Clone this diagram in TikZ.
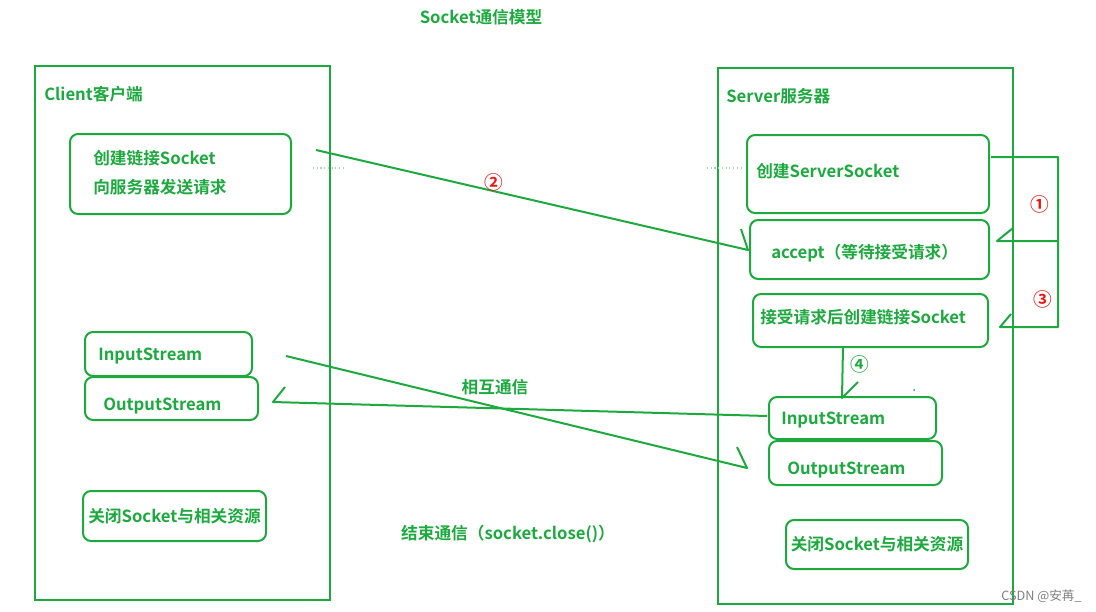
\documentclass[tikz,border=0pt]{standalone}
\usepackage{fontspec}
\usetikzlibrary{fit}
\setmainfont{Noto Sans CJK SC}[BoldFont={Noto Sans CJK SC Bold}]
\definecolor{sock-green}{RGB}{28, 170, 62}
\definecolor{mark-red}{RGB}{235, 20, 20}

\tikzset{
  frame/.style={draw=sock-green, line width=1.9pt, inner sep=0pt},
  box/.style={draw=sock-green, line width=1.5pt, rounded corners=6pt, inner sep=0pt},
  wire/.style={draw=sock-green, line width=1.5pt, line join=round},
  txt/.style={text=sock-green, font=\bfseries\fontsize{12.5}{15}\selectfont, inner sep=0pt, anchor=west},
  num/.style={text=mark-red, font=\bfseries\fontsize{14}{16}\selectfont, inner sep=0pt},
  faint/.style={draw=sock-green!40, line width=0.8pt, dotted}
}

\begin{document}
\begin{tikzpicture}[x=0.75pt, y=-0.75pt]
\useasboundingbox (0,0) rectangle (1096,611);

\node[txt, anchor=center] (title) at (481,17) {Socket通信模型};

% client side
\node[frame, fit={(35,66) (330,600)}] (client) {};
\node[txt] (clientLbl) at (44,94) {Client客户端};
\node[box, fit={(70,134) (291,214)}] (cliConn) {};
\node[txt] (cliConnA) at (93,158) {创建链接Socket};
\node[txt] (cliConnB) at (93,187) {向服务器发送请求};
\node[box, fit={(85,332) (252,376)}] (cliIn) {};
\node[txt] (cliInLbl) at (98,356) {InputStream};
\node[box, fit={(85,377) (258,420)}] (cliOut) {};
\node[txt] (cliOutLbl) at (103,406) {OutputStream};
\node[box, fit={(83,491) (266,541)}] (cliClose) {};
\node[txt, anchor=center] (cliCloseLbl) at (cliClose.center) {关闭Socket与相关资源};

% server side
\node[frame, fit={(718,68) (1013,604)}] (server) {};
\node[txt] (serverLbl) at (726,96) {Server服务器};
\node[box, fit={(747,135) (989,213)}] (srvSock) {};
\node[txt] (srvSockLbl) at (756,171) {创建ServerSocket};
\node[box, fit={(750,220) (989,279)}] (srvAcc) {};
\node[txt] (srvAccLbl) at (771,253) {accept（等待接受请求）};
\node[box, fit={(753,294) (988,347)}] (srvLink) {};
\node[txt] (srvLinkLbl) at (760,317) {接受请求后创建链接Socket};
\node[box, fit={(769,397) (936,439)}] (srvIn) {};
\node[txt] (srvInLbl) at (781,420) {InputStream};
\node[box, fit={(769,441) (942,485)}] (srvOut) {};
\node[txt] (srvOutLbl) at (787,470) {OutputStream};
\node[box, fit={(786,520) (968,569)}] (srvClose) {};
\node[txt, anchor=center] (srvCloseLbl) at (srvClose.center) {关闭Socket与相关资源};

% labels between
\node[txt, anchor=center] (talkLbl) at (495,387) {相互通信};
\node[txt, anchor=center] (endLbl) at (508,534) {结束通信（socket.close()）};

% connect request
\coordinate (reqFrom) at (316,150);
\coordinate (reqTo) at (748,250);
\draw[wire] (reqFrom) -- (reqTo) -- ++(-7,-21);
\node[num] (n2) at (494,182) {②};

% bind / accept / link
\coordinate (sockOut) at (991,157);
\coordinate (bendBot) at (1058,327);
\coordinate (accIn) at (997,241);
\coordinate (linkIn) at (1000,327);
\draw[wire] (sockOut) -| (bendBot) -- (linkIn) -- ++(11,-13);
\draw[wire] (1058,241) -- (accIn) -- ++(16,-13);
\node[num] (n1) at (1040,204) {①};
\node[num] (n3) at (1043,299) {③};

% link socket -> streams
\coordinate (linkDown) at (843,347);
\coordinate (inTop) at (842,398);
\draw[wire] (linkDown) -- (inTop) -- ++(16,-16);
\node[num, text=sock-green] (n4) at (860,364) {④};

% streams
\coordinate (cliSend) at (286,356);
\coordinate (srvRecv) at (747,468);
\draw[wire] (cliSend) -- (srvRecv) -- ++(-10,-21);
\coordinate (srvSend) at (767,416);
\coordinate (cliRecv) at (273,402);
\draw[wire] (srvSend) -- (cliRecv) -- ++(12,-15);

% stray marks
\draw[faint] (313,168) -- (345,168);
\draw[faint] (707,168) -- (742,168);
\fill[sock-green] (914,390) circle (1);

\node[text=gray, font=\fontsize{9.5}{11}\selectfont, inner sep=0pt, anchor=east] (mark) at (1082,596) {CSDN @安苒\_};
\end{tikzpicture}
\end{document}
